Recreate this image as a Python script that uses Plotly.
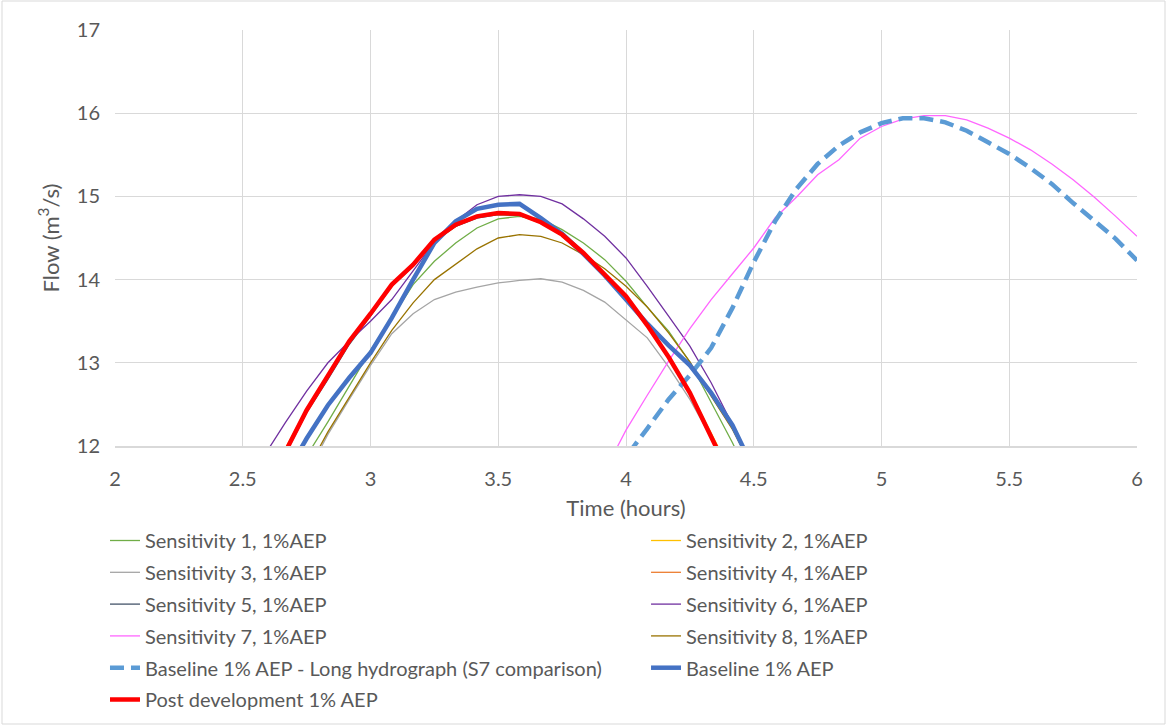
import plotly.graph_objects as go

# Time steps (hours) for the main storm hydrographs
time_main = [2.5833, 2.6667, 2.75, 2.8333, 2.9167, 3.0, 3.0833, 3.1667, 3.25, 3.3333,
             3.4167, 3.5, 3.5833, 3.6667, 3.75, 3.8333, 3.9167, 4.0, 4.0833, 4.1667,
             4.25, 4.3333, 4.4167, 4.5]

# Time steps (hours) for the long-duration hydrographs
time_long = [3.9167, 4.0, 4.0833, 4.1667, 4.25, 4.3333, 4.4167, 4.5, 4.5833, 4.6667,
             4.75, 4.8333, 4.9167, 5.0, 5.0833, 5.1667, 5.25, 5.3333, 5.4167, 5.5,
             5.5833, 5.6667, 5.75, 5.8333, 5.9167, 6.0]

# Flows (m3/s)
sens1 = [11.10, 11.50, 11.88, 12.29, 12.72, 13.15, 13.54, 13.94, 14.22, 14.44,
         14.62, 14.73, 14.76, 14.73, 14.60, 14.44, 14.24, 13.98, 13.67, 13.38,
         13.01, 12.53, 12.04, 11.50]
sens2 = [11.55, 11.97, 12.45, 12.85, 13.25, 13.58, 13.92, 14.17, 14.46, 14.64,
         14.75, 14.78, 14.77, 14.68, 14.54, 14.33, 14.07, 13.80, 13.46, 13.09,
         12.66, 12.16, 11.65, 11.10]
sens3 = [10.70, 11.20, 11.65, 12.14, 12.56, 12.97, 13.35, 13.59, 13.76, 13.85,
         13.91, 13.96, 13.99, 14.01, 13.97, 13.87, 13.73, 13.52, 13.30, 12.95,
         12.56, 12.10, 11.60, 11.10]
sens4 = [11.52, 11.95, 12.44, 12.84, 13.25, 13.58, 13.93, 14.17, 14.47, 14.65,
         14.75, 14.79, 14.78, 14.68, 14.54, 14.33, 14.07, 13.80, 13.46, 13.08,
         12.65, 12.15, 11.63, 11.10]
sens5 = [11.45, 11.90, 12.40, 12.80, 13.22, 13.56, 13.92, 14.16, 14.46, 14.64,
         14.74, 14.78, 14.77, 14.69, 14.53, 14.31, 14.05, 13.77, 13.47, 13.20,
         12.95, 12.62, 12.22, 11.70]
sens6 = [11.88, 12.28, 12.66, 13.00, 13.26, 13.50, 13.76, 14.10, 14.45, 14.70,
         14.90, 15.00, 15.02, 15.00, 14.91, 14.73, 14.52, 14.26, 13.92, 13.56,
         13.20, 12.76, 12.26, 11.75]
sens8 = [10.90, 11.30, 11.70, 12.17, 12.59, 13.00, 13.39, 13.72, 14.00, 14.18,
         14.37, 14.50, 14.54, 14.52, 14.44, 14.30, 14.13, 13.92, 13.67, 13.36,
         13.01, 12.60, 12.20, 11.70]
baseline = [11.20, 11.65, 12.09, 12.49, 12.82, 13.12, 13.54, 14.00, 14.44, 14.70,
            14.85, 14.90, 14.91, 14.74, 14.55, 14.31, 14.05, 13.76, 13.47, 13.21,
            12.97, 12.64, 12.25, 11.72]
post_dev = [11.50, 11.93, 12.43, 12.84, 13.26, 13.59, 13.94, 14.18, 14.48, 14.66,
            14.76, 14.80, 14.79, 14.69, 14.54, 14.32, 14.06, 13.80, 13.45, 13.07,
            12.64, 12.13, 11.60, 11.05]

sens7 = [11.70, 12.19, 12.61, 13.02, 13.41, 13.76, 14.07, 14.38, 14.74, 14.99,
         15.26, 15.44, 15.70, 15.84, 15.93, 15.97, 15.97, 15.92, 15.82, 15.70,
         15.56, 15.39, 15.20, 14.99, 14.76, 14.52]
baseline_long = [11.50, 11.87, 12.21, 12.56, 12.85, 13.18, 13.66, 14.21, 14.70, 15.09,
                 15.39, 15.61, 15.77, 15.88, 15.94, 15.94, 15.89, 15.79, 15.65, 15.51,
                 15.34, 15.15, 14.92, 14.70, 14.49, 14.23]

x_ticks = [2, 2.5, 3, 3.5, 4, 4.5, 5, 5.5, 6]
x_tick_text = ["2", "2.5", "3", "3.5", "4", "4.5", "5", "5.5", "6"]
y_ticks = [12, 13, 14, 15, 16, 17]

# (name, x, y, colour, width, dash, legend column)
series = [
    ("Sensitivity 1, 1%AEP", time_main, sens1, "#70AD47", 1.3, "solid", "legend"),
    ("Sensitivity 2, 1%AEP", time_main, sens2, "#FFC000", 1.3, "solid", "legend2"),
    ("Sensitivity 3, 1%AEP", time_main, sens3, "#A5A5A5", 1.3, "solid", "legend"),
    ("Sensitivity 4, 1%AEP", time_main, sens4, "#ED7D31", 1.3, "solid", "legend2"),
    ("Sensitivity 5, 1%AEP", time_main, sens5, "#44546A", 1.3, "solid", "legend"),
    ("Sensitivity 6, 1%AEP", time_main, sens6, "#7030A0", 1.3, "solid", "legend2"),
    ("Sensitivity 7, 1%AEP", time_long, sens7, "#FF66FF", 1.3, "solid", "legend"),
    ("Sensitivity 8, 1%AEP", time_main, sens8, "#997300", 1.3, "solid", "legend2"),
    ("Baseline 1% AEP - Long hydrograph (S7 comparison)", time_long, baseline_long,
     "#5B9BD5", 4.5, "14px,7px", "legend"),
    ("Baseline 1% AEP", time_main, baseline, "#4472C4", 4.5, "solid", "legend2"),
    ("Post development 1% AEP", time_main, post_dev, "#FF0000", 4.5, "solid", "legend"),
]

fig = go.Figure()
for i, (name, xs, ys, col, w, dash, leg) in enumerate(series):
    fig.add_trace(go.Scatter(
        x=xs, y=ys, mode="lines", name=name,
        line=dict(color=col, width=w, dash=dash),
        legend=leg, legendgroup=f"g{i}",
    ))

grid = "#D9D9D9"
fig.update_xaxes(
    range=[2, 6], tickvals=x_ticks, ticktext=x_tick_text,
    showgrid=True, gridcolor=grid, gridwidth=1, zeroline=False,
    showline=True, linecolor=grid, linewidth=1.5,
    ticks="", ticklabelstandoff=14,
    tickfont=dict(size=20, color="#595959"),
    title=dict(text="Time (hours)", font=dict(size=22, color="#595959"), standoff=12),
)
fig.update_yaxes(
    range=[12, 17], tickvals=y_ticks,
    showgrid=True, gridcolor=grid, gridwidth=1, zeroline=False,
    showline=False, ticks="", ticklabelstandoff=14,
    tickfont=dict(size=20, color="#595959"),
    title=dict(text="Flow (m<sup>3</sup>/s)", font=dict(size=22, color="#595959"), standoff=11),
)

legend_common = dict(
    orientation="v", xanchor="left", yanchor="top", y=-0.1803,
    font=dict(family="Lato", size=20, color="#595959"),
    tracegroupgap=2.8, bgcolor="rgba(0,0,0,0)",
)

fig.update_layout(
    width=1167, height=726,
    margin=dict(l=115, r=30, t=30, b=280, autoexpand=False),
    plot_bgcolor="white", paper_bgcolor="white",
    font=dict(family="Lato", color="#595959", size=20),
    showlegend=True,
    legend=dict(x=-0.0098, **legend_common),
    legend2=dict(x=0.5196, **legend_common),
    shapes=[dict(type="rect", xref="paper", yref="paper",
                 x0=-113 / 1022, x1=1050 / 1022, y0=-0.6683, y1=1.0697,
                 line=dict(color=grid, width=1), layer="below")],
)

fig.write_html("out.html")
